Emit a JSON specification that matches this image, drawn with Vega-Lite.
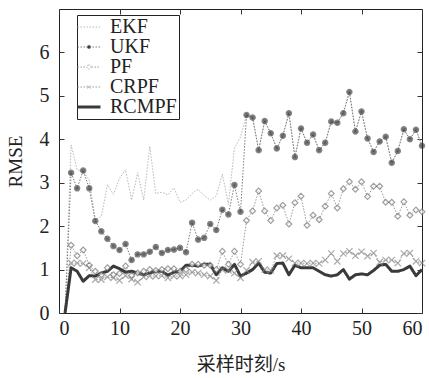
{
  "$schema": "https://vega.github.io/schema/vega-lite/v6.json",
  "width": 363,
  "height": 304,
  "autosize": "none",
  "padding": {"left": 59, "top": 9, "right": 6, "bottom": 65},
  "background": "white",
  "config": {
    "view": {"stroke": "#222", "strokeWidth": 1},
    "font": "'Liberation Serif', 'Times New Roman', serif",
    "axis": {"grid": false, "domain": false, "tickColor": "#333", "tickSize": -5, "labelFont": "'Liberation Serif', 'Times New Roman', serif", "labelFontSize": 20, "labelColor": "#222", "titleFont": "'Liberation Serif', 'Noto Sans CJK SC', serif", "titleFontSize": 19, "titleFontWeight": "normal", "titleColor": "#222"}
  },
  "data": {
    "values": [
      {"t": 1, "EKF": 0, "UKF": 0, "PF": 0, "CRPF": 0, "RCMPF": 0},
      {"t": 2, "EKF": 3.87, "UKF": 3.23, "PF": 1.56, "CRPF": 1.15, "RCMPF": 1.04},
      {"t": 3, "EKF": 3.3, "UKF": 2.87, "PF": 1.32, "CRPF": 1.15, "RCMPF": 0.96},
      {"t": 4, "EKF": 3.25, "UKF": 3.28, "PF": 1.45, "CRPF": 1.14, "RCMPF": 0.73},
      {"t": 5, "EKF": 3.07, "UKF": 2.87, "PF": 1.1, "CRPF": 1.04, "RCMPF": 0.86},
      {"t": 6, "EKF": 2.15, "UKF": 2.12, "PF": 0.96, "CRPF": 0.77, "RCMPF": 0.85},
      {"t": 7, "EKF": 2.22, "UKF": 1.88, "PF": 0.88, "CRPF": 0.77, "RCMPF": 0.92},
      {"t": 8, "EKF": 2.95, "UKF": 1.71, "PF": 1.04, "CRPF": 0.83, "RCMPF": 0.96},
      {"t": 9, "EKF": 2.73, "UKF": 1.54, "PF": 0.88, "CRPF": 0.81, "RCMPF": 1.08},
      {"t": 10, "EKF": 3.1, "UKF": 1.45, "PF": 0.91, "CRPF": 0.75, "RCMPF": 1.02},
      {"t": 11, "EKF": 3.3, "UKF": 1.59, "PF": 1.08, "CRPF": 0.86, "RCMPF": 0.94},
      {"t": 12, "EKF": 2.6, "UKF": 1.22, "PF": 0.87, "CRPF": 0.78, "RCMPF": 0.96},
      {"t": 13, "EKF": 3.23, "UKF": 1.35, "PF": 0.92, "CRPF": 0.71, "RCMPF": 0.92},
      {"t": 14, "EKF": 2.6, "UKF": 1.35, "PF": 0.96, "CRPF": 0.83, "RCMPF": 0.88},
      {"t": 15, "EKF": 3.84, "UKF": 1.41, "PF": 1.0, "CRPF": 0.85, "RCMPF": 0.92},
      {"t": 16, "EKF": 2.75, "UKF": 1.52, "PF": 0.98, "CRPF": 0.85, "RCMPF": 0.96},
      {"t": 17, "EKF": 2.78, "UKF": 1.38, "PF": 1.0, "CRPF": 0.86, "RCMPF": 0.96},
      {"t": 18, "EKF": 2.72, "UKF": 1.45, "PF": 1.02, "CRPF": 0.81, "RCMPF": 0.87},
      {"t": 19, "EKF": 2.88, "UKF": 1.46, "PF": 1.02, "CRPF": 0.85, "RCMPF": 0.94},
      {"t": 20, "EKF": 2.55, "UKF": 1.5, "PF": 0.96, "CRPF": 0.85, "RCMPF": 0.96},
      {"t": 21, "EKF": 2.6, "UKF": 1.4, "PF": 1.0, "CRPF": 0.88, "RCMPF": 1.1},
      {"t": 22, "EKF": 2.75, "UKF": 2.08, "PF": 1.12, "CRPF": 0.94, "RCMPF": 1.1},
      {"t": 23, "EKF": 2.85, "UKF": 1.69, "PF": 1.12, "CRPF": 0.92, "RCMPF": 1.08},
      {"t": 24, "EKF": 2.7, "UKF": 1.73, "PF": 1.1, "CRPF": 0.88, "RCMPF": 1.12},
      {"t": 25, "EKF": 2.6, "UKF": 2.05, "PF": 1.1, "CRPF": 0.85, "RCMPF": 1.12},
      {"t": 26, "EKF": 2.7, "UKF": 1.91, "PF": 1.0, "CRPF": 0.75, "RCMPF": 0.88},
      {"t": 27, "EKF": 3.2, "UKF": 2.38, "PF": 1.42, "CRPF": 1.0, "RCMPF": 1.04},
      {"t": 28, "EKF": 2.5, "UKF": 2.27, "PF": 1.12, "CRPF": 0.98, "RCMPF": 0.96},
      {"t": 29, "EKF": 3.8, "UKF": 2.95, "PF": 1.42, "CRPF": 0.92, "RCMPF": 1.12},
      {"t": 30, "EKF": 4.05, "UKF": 2.33, "PF": 1.12, "CRPF": 0.81, "RCMPF": 0.85},
      {"t": 31, "EKF": 4.56, "UKF": 4.56, "PF": 2.13, "CRPF": 0.98, "RCMPF": 0.92},
      {"t": 32, "EKF": 4.5, "UKF": 4.5, "PF": 2.35, "CRPF": 1.17, "RCMPF": 1.0},
      {"t": 33, "EKF": 3.75, "UKF": 3.75, "PF": 2.81, "CRPF": 1.19, "RCMPF": 1.15},
      {"t": 34, "EKF": 4.42, "UKF": 4.42, "PF": 2.35, "CRPF": 1.0, "RCMPF": 0.94},
      {"t": 35, "EKF": 4.14, "UKF": 4.14, "PF": 2.13, "CRPF": 0.98, "RCMPF": 0.92},
      {"t": 36, "EKF": 3.79, "UKF": 3.79, "PF": 2.42, "CRPF": 1.32, "RCMPF": 1.14},
      {"t": 37, "EKF": 4.08, "UKF": 4.08, "PF": 2.48, "CRPF": 1.32, "RCMPF": 1.15},
      {"t": 38, "EKF": 4.6, "UKF": 4.6, "PF": 2.05, "CRPF": 1.25, "RCMPF": 0.88},
      {"t": 39, "EKF": 3.59, "UKF": 3.59, "PF": 2.54, "CRPF": 1.15, "RCMPF": 1.1},
      {"t": 40, "EKF": 4.25, "UKF": 4.25, "PF": 2.69, "CRPF": 1.15, "RCMPF": 1.04},
      {"t": 41, "EKF": 3.92, "UKF": 3.92, "PF": 2.02, "CRPF": 1.14, "RCMPF": 1.04},
      {"t": 42, "EKF": 4.11, "UKF": 4.11, "PF": 2.25, "CRPF": 1.15, "RCMPF": 1.04},
      {"t": 43, "EKF": 3.75, "UKF": 3.75, "PF": 2.15, "CRPF": 1.14, "RCMPF": 0.96},
      {"t": 44, "EKF": 3.92, "UKF": 3.92, "PF": 2.46, "CRPF": 1.22, "RCMPF": 0.88},
      {"t": 45, "EKF": 4.41, "UKF": 4.41, "PF": 2.75, "CRPF": 1.37, "RCMPF": 0.85},
      {"t": 46, "EKF": 4.38, "UKF": 4.38, "PF": 2.42, "CRPF": 1.19, "RCMPF": 0.88},
      {"t": 47, "EKF": 4.6, "UKF": 4.6, "PF": 2.86, "CRPF": 1.37, "RCMPF": 1.0},
      {"t": 48, "EKF": 5.09, "UKF": 5.09, "PF": 3.02, "CRPF": 1.42, "RCMPF": 0.78},
      {"t": 49, "EKF": 4.18, "UKF": 4.18, "PF": 2.85, "CRPF": 1.32, "RCMPF": 0.88},
      {"t": 50, "EKF": 4.64, "UKF": 4.64, "PF": 3.02, "CRPF": 1.41, "RCMPF": 0.9},
      {"t": 51, "EKF": 4.02, "UKF": 4.02, "PF": 2.68, "CRPF": 1.31, "RCMPF": 0.88},
      {"t": 52, "EKF": 3.71, "UKF": 3.71, "PF": 2.92, "CRPF": 1.38, "RCMPF": 0.98},
      {"t": 53, "EKF": 3.95, "UKF": 3.95, "PF": 2.92, "CRPF": 1.17, "RCMPF": 1.1},
      {"t": 54, "EKF": 4.06, "UKF": 4.06, "PF": 2.55, "CRPF": 1.22, "RCMPF": 1.12},
      {"t": 55, "EKF": 3.46, "UKF": 3.46, "PF": 2.55, "CRPF": 1.22, "RCMPF": 0.96},
      {"t": 56, "EKF": 3.73, "UKF": 3.73, "PF": 2.23, "CRPF": 1.15, "RCMPF": 0.96},
      {"t": 57, "EKF": 4.23, "UKF": 4.23, "PF": 2.56, "CRPF": 1.37, "RCMPF": 1.0},
      {"t": 58, "EKF": 4.0, "UKF": 4.0, "PF": 2.25, "CRPF": 1.38, "RCMPF": 1.08},
      {"t": 59, "EKF": 4.22, "UKF": 4.22, "PF": 2.37, "CRPF": 1.19, "RCMPF": 0.86},
      {"t": 60, "EKF": 3.85, "UKF": 3.85, "PF": 2.33, "CRPF": 1.15, "RCMPF": 1.0}
    ]
  },
  "transform": [{"fold": ["EKF", "UKF", "PF", "CRPF", "RCMPF"], "as": ["series", "rmse"]}],
  "resolve": {"axis": {"x": "independent", "y": "independent"}},
  "layer": [
    {
      "mark": {"type": "line", "strokeCap": "butt", "strokeJoin": "round"},
      "encoding": {
        "x": {"field": "t", "type": "quantitative", "scale": {"domain": [0, 60], "nice": false}, "axis": {"orient": "bottom", "values": [0, 10, 20, 30, 40, 50, 60], "labelPadding": 10, "title": "采样时刻/s", "titlePadding": 17}},
        "y": {"field": "rmse", "type": "quantitative", "scale": {"domain": [0, 7], "nice": false}, "axis": {"orient": "left", "values": [0, 1, 2, 3, 4, 5, 6], "labelPadding": 15, "title": "RMSE", "titlePadding": 14}},
        "color": {
          "field": "series", "type": "nominal",
          "scale": {"domain": ["EKF", "UKF", "PF", "CRPF", "RCMPF"], "range": ["#b8b8b8", "#7a7a7a", "#9a9a9a", "#9a9a9a", "#3a3a3a"]},
          "legend": {
            "title": null, "orient": "none", "legendX": 18, "legendY": 6,
            "strokeColor": "#222", "padding": 2, "fillColor": "white",
            "labelFont": "'Liberation Serif', 'Times New Roman', serif", "labelFontSize": 20, "labelColor": "#222", "labelOffset": 11,
            "symbolSize": 529, "rowPadding": 0, "symbolType": "stroke",
            "encode": {
              "symbols": {
                "update": {
                  "shape": {"signal": "datum.value === 'UKF' ? 'M-1,0H1M-0.15,0A0.15,0.15 0 1,0 0.15,0A0.15,0.15 0 1,0 -0.15,0Z' : datum.value === 'PF' ? 'M-1,0H-0.22M0.22,0H1M0,-0.22L0.22,0L0,0.22L-0.22,0Z' : datum.value === 'CRPF' ? 'M-1,0H1M-0.12,-0.12L0.12,0.12M-0.12,0.12L0.12,-0.12' : 'M-1,0H1'"},
                  "fill": {"signal": "datum.value === 'UKF' ? '#333' : datum.value === 'PF' ? 'white' : 'transparent'"},
                  "stroke": {"signal": "datum.value === 'RCMPF' ? '#3a3a3a' : datum.value === 'EKF' ? '#b8b8b8' : '#888'"},
                  "strokeWidth": {"signal": "datum.value === 'RCMPF' ? 3.2 : 1"},
                  "strokeDash": {"signal": "datum.value === 'RCMPF' ? [] : [2, 2]"}
                }
              }
            }
          }
        },
        "strokeDash": {"field": "series", "type": "nominal", "scale": {"domain": ["EKF", "UKF", "PF", "CRPF", "RCMPF"], "range": [[1.5, 1.5], [1.5, 1.5], [1.5, 1.5], [1.5, 1.5], [1, 0]]}, "legend": null},
        "strokeWidth": {"condition": {"test": "datum.series === 'RCMPF'", "value": 3}, "value": 1},
        "order": {"field": "t", "type": "quantitative"}
      }
    },
    {
      "transform": [{"filter": "datum.series === 'UKF' || datum.series === 'PF' || datum.series === 'CRPF'"}, {"filter": "datum.t > 1"}],
      "mark": {"type": "point", "filled": false},
      "encoding": {
        "x": {"field": "t", "type": "quantitative", "scale": {"domain": [0, 60], "nice": false}, "axis": {"orient": "top", "values": [0, 10, 20, 30, 40, 50, 60], "labels": false, "title": null}},
        "y": {"field": "rmse", "type": "quantitative", "scale": {"domain": [0, 7], "nice": false}, "axis": {"orient": "right", "values": [0, 1, 2, 3, 4, 5, 6], "labels": false, "title": null}},
        "shape": {"field": "series", "type": "nominal", "scale": {"domain": ["UKF", "PF", "CRPF"], "range": ["circle", "diamond", "M-1,-1L1,1M-1,1L1,-1"]}, "legend": null},
        "fill": {"field": "series", "type": "nominal", "scale": {"domain": ["UKF", "PF", "CRPF"], "range": ["#333", "white", "transparent"]}, "legend": null},
        "stroke": {"field": "series", "type": "nominal", "scale": {"domain": ["UKF", "PF", "CRPF"], "range": ["#555", "#777", "#888"]}, "legend": null},
        "size": {"field": "series", "type": "nominal", "scale": {"domain": ["UKF", "PF", "CRPF"], "range": [28, 40, 14]}, "legend": null},
        "strokeWidth": {"value": 1.2}
      }
    }
  ]
}
